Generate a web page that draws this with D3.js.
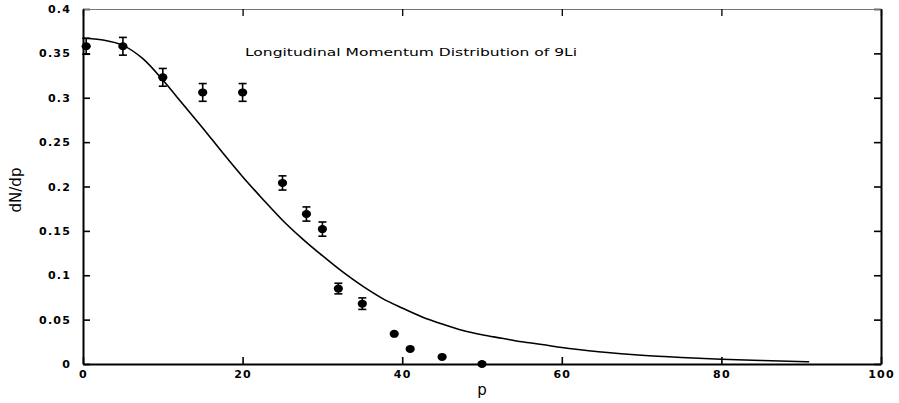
<!DOCTYPE html>
<html>
<head>
<meta charset="utf-8">
<script src="https://cdn.jsdelivr.net/npm/d3@7"></script>
<style>
  body { margin: 0; background: #fff; }
  svg { display: block; }
  text { font-family: "DejaVu Sans", sans-serif; fill: #000; }
</style>
</head>
<body>
<div id="cont"></div>
<script>
// measured points with error bars
var momentum = [0.4, 5, 10, 15, 20, 25, 28, 30, 32, 35, 39, 41, 45, 50];
var dndp = [0.358, 0.358, 0.323, 0.306, 0.306, 0.204, 0.169, 0.152, 0.085, 0.068, 0.034, 0.017, 0.008, 0.0];
var errors = [0.009, 0.010, 0.010, 0.010, 0.010, 0.008, 0.008, 0.008, 0.006, 0.0065, 0.003, 0.002, 0, 0];

// fitted curve
var curveP = [0, 2.5, 5, 7.5, 10, 12.5, 15, 17.5, 20, 22.5, 25, 27.5, 30, 32.5, 35, 37.5, 40, 42.5, 45, 47.5, 50, 52.5, 55, 57.5, 60, 65, 70, 75, 80, 85, 91];
var curveY = [0.367, 0.365, 0.359, 0.344, 0.320, 0.293, 0.266, 0.238, 0.211, 0.186, 0.162, 0.141, 0.122, 0.104, 0.088, 0.074, 0.063, 0.053, 0.045, 0.038, 0.033, 0.029, 0.025, 0.022, 0.0185, 0.0135, 0.0098, 0.0073, 0.0054, 0.004, 0.0025];

var xTicks = [0, 20, 40, 60, 80, 100];
var yTicks = [0, 0.05, 0.1, 0.15, 0.2, 0.25, 0.3, 0.35, 0.4];

var width = 899, height = 403;
var plotL = 83, plotR = 881, plotT = 9, plotB = 364;

var x = d3.scaleLinear().domain([0, 100]).range([plotL, plotR]);
var y = d3.scaleLinear().domain([0, 0.4]).range([plotB, plotT]);

var svg = d3.select("#cont").append("svg")
  .attr("width", width)
  .attr("height", height);

// frame + inward ticks
var fmtY = function(d) { return d === 0 ? "0" : String(+d.toFixed(2)); };

var gx = svg.append("g")
  .attr("transform", "translate(0," + plotB + ")")
  .call(d3.axisBottom(x).tickValues(xTicks).tickSizeInner(-7).tickSizeOuter(0).tickPadding(6));
var gy = svg.append("g")
  .attr("transform", "translate(" + plotL + ",0)")
  .call(d3.axisLeft(y).tickValues(yTicks).tickFormat(fmtY).tickSizeInner(-7).tickSizeOuter(0).tickPadding(12));
var gr = svg.append("g")
  .attr("transform", "translate(" + plotR + ",0)")
  .call(d3.axisRight(y).tickValues(yTicks).tickFormat("").tickSizeInner(-7).tickSizeOuter(0));
var gt = svg.append("g")
  .attr("transform", "translate(0," + plotT + ")")
  .call(d3.axisTop(x).tickValues(xTicks).tickFormat("").tickSizeInner(-7).tickSizeOuter(0));

[gx, gy, gr].forEach(function(g) {
  g.select(".domain").attr("stroke-width", 2);
  g.selectAll(".tick line").attr("stroke-width", 1.6);
});
gt.select(".domain").attr("stroke", "#777").attr("stroke-width", 1);
gt.selectAll(".tick line").attr("stroke-width", 1.3);

svg.selectAll(".tick text")
  .attr("font-family", "DejaVu Sans, sans-serif")
  .attr("font-size", 11)
  .attr("font-weight", "bold")
  .attr("letter-spacing", 1.2);

// curve
var line = d3.line()
  .x(function(d, i) { return x(curveP[i]); })
  .y(function(d) { return y(d); })
  .curve(d3.curveMonotoneX);

svg.append("path")
  .datum(curveY)
  .attr("d", line)
  .attr("fill", "none")
  .attr("stroke", "#000")
  .attr("stroke-width", 1.6);

// points + error bars
var pts = svg.selectAll("g.pt")
  .data(dndp)
  .enter()
  .append("g")
  .attr("class", "pt");

pts.each(function(d, i) {
  var e = errors[i];
  if (e <= 0.003) return;
  var g = d3.select(this);
  var cx = x(momentum[i]);
  g.append("line")
    .attr("x1", cx).attr("x2", cx)
    .attr("y1", y(d + e)).attr("y2", y(d - e))
    .attr("stroke", "#000").attr("stroke-width", 1.6);
  [d + e, d - e].forEach(function(v) {
    g.append("line")
      .attr("x1", cx - 4).attr("x2", cx + 4)
      .attr("y1", y(v)).attr("y2", y(v))
      .attr("stroke", "#000").attr("stroke-width", 1.6);
  });
});

pts.append("ellipse")
  .attr("cx", function(d, i) { return x(momentum[i]); })
  .attr("cy", function(d) { return y(d); })
  .attr("rx", 4.6)
  .attr("ry", 4)
  .attr("fill", "#000");

// labels
svg.append("text")
  .attr("x", 411)
  .attr("y", 56)
  .attr("text-anchor", "middle")
  .attr("font-size", 11)
  .attr("textLength", 332)
  .attr("lengthAdjust", "spacingAndGlyphs")
  .text("Longitudinal Momentum Distribution of 9Li");

svg.append("text")
  .attr("x", x(50))
  .attr("y", 395)
  .attr("text-anchor", "middle")
  .attr("font-size", 15)
  .text("p");

svg.append("text")
  .attr("transform", "translate(21,190) rotate(-90)")
  .attr("text-anchor", "middle")
  .attr("font-size", 15)
  .text("dN/dp");
</script>
</body>
</html>
